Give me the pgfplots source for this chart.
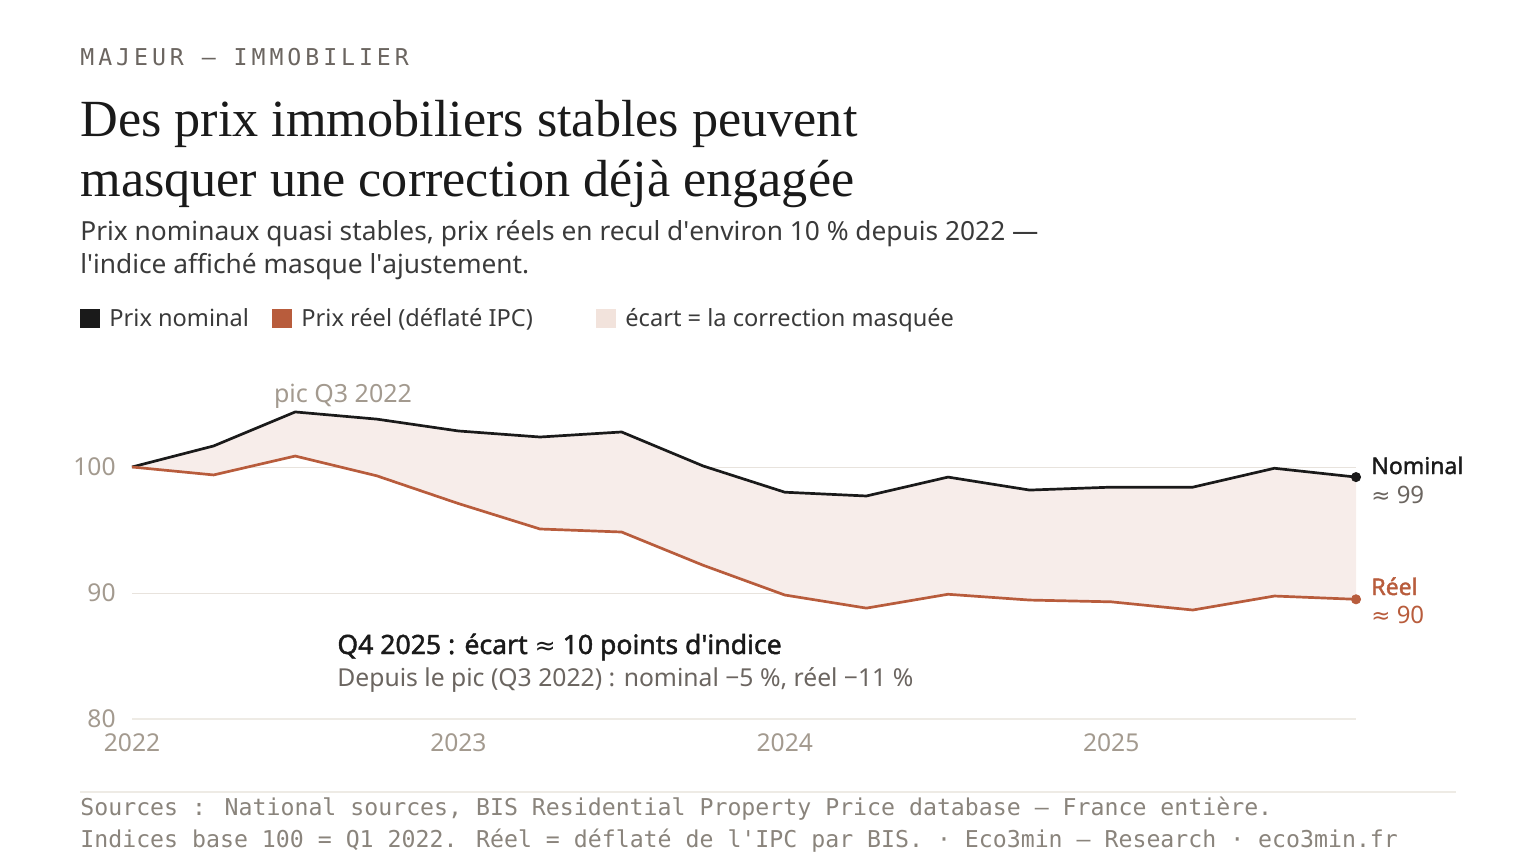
\documentclass[border=0pt]{standalone}
\usepackage{fontspec}
\setmainfont{Noto Sans}
\newfontfamily\semib{Noto Sans}[FakeBold=1.6]
\newfontfamily\symfont{DejaVu Sans}
\newfontfamily\titlefont{Liberation Serif}
\newfontfamily\monofont{DejaVu Sans Mono}
\usepackage{pgfplots}
\pgfplotsset{compat=1.18}
\usepgfplotslibrary{fillbetween}
\definecolor{ink}{HTML}{1A1A1A}
\definecolor{rust}{HTML}{B85C3C}
\definecolor{gapfill}{HTML}{F7EDEA}
\definecolor{gapkey}{HTML}{F2E3DC}
\definecolor{kicker}{HTML}{6B6560}
\definecolor{tickgray}{HTML}{A39A8F}
\definecolor{gridc}{HTML}{E8E3DD}
\definecolor{basec}{HTML}{EEEBE5}
\definecolor{subc}{HTML}{3A3A3A}
\definecolor{footc}{HTML}{8A847C}
\newcommand{\approxs}{{\symfont\fontsize{0.95em}{1em}\selectfont ≈}}
\newcommand{\q}{\textquotesingle}
\begin{document}
\begin{tikzpicture}
\path (0,0) rectangle (768pt,432pt);
% header
\node[anchor=base west,inner sep=0pt,text=kicker] at (40pt,399pt)
  {\monofont\addfontfeature{LetterSpace=17}\fontsize{11.6pt}{14pt}\selectfont MAJEUR — IMMOBILIER};
\node[anchor=base west,inner sep=0pt,text=ink] at (40pt,363.5pt)
  {\titlefont\fontsize{26.1pt}{30pt}\selectfont Des prix immobiliers stables peuvent};
\node[anchor=base west,inner sep=0pt,text=ink] at (40pt,334pt)
  {\titlefont\fontsize{26.1pt}{30pt}\selectfont masquer une correction déjà engagée};
\node[anchor=base west,inner sep=0pt,text=subc] at (40pt,312pt)
  {\fontsize{13.15pt}{14pt}\selectfont Prix nominaux quasi stables, prix réels en recul d\q environ 10 \% depuis 2022 —};
\node[anchor=base west,inner sep=0pt,text=subc] at (40pt,295pt)
  {\fontsize{13.15pt}{14pt}\selectfont l\q indice affiché masque l\q ajustement.};
% legend
\fill[ink] (40pt,268pt) rectangle (50pt,277.5pt);
\node[anchor=base west,inner sep=0pt,text=subc] at (54.5pt,269pt) {\fontsize{11.8pt}{14pt}\selectfont Prix nominal};
\fill[rust] (136pt,268pt) rectangle (146pt,277.5pt);
\node[anchor=base west,inner sep=0pt,text=subc] at (150.5pt,269pt) {\fontsize{11.8pt}{14pt}\selectfont Prix réel (déflaté IPC)};
\fill[gapkey] (298pt,268pt) rectangle (308pt,277.5pt);
\node[anchor=base west,inner sep=0pt,text=subc] at (312.5pt,269pt) {\fontsize{11.8pt}{14pt}\selectfont écart = la correction masquée};

\begin{axis}[
  at={(66pt,72.5pt)}, anchor=south west,
  scale only axis, width=612pt, height=157.5pt,
  xmin=0, xmax=15, ymin=80, ymax=105,
  axis line style={draw=none},
  major tick style={draw=none},
  xtick={0,4,8,12}, xticklabels={2022,2023,2024,2025},
  ytick={90,100},
  ymajorgrids, grid style={gridc, line width=0.5pt},
  extra y ticks={80}, extra y tick style={grid style={basec, line width=1pt}},
  tick label style={text=tickgray, font=\fontsize{12.3pt}{13pt}\selectfont},
  xticklabel style={anchor=center, inner sep=0pt, yshift=-12pt},
  yticklabel style={anchor=east, inner sep=0pt, xshift=-8pt},
  /pgf/number format/assume math mode=true,
  clip=false,
]
\addplot[name path=nom, draw=none, forget plot] coordinates {
 (0,100.0) (1,101.67) (2,104.37) (3,103.8)
 (4,102.86) (5,102.38) (6,102.78) (7,100.08)
 (8,98.0) (9,97.7) (10,99.2) (11,98.17)
 (12,98.4) (13,98.4) (14,99.9) (15,99.2)};
\addplot[name path=reel, draw=none, forget plot] coordinates {
 (0,100.0) (1,99.37) (2,100.87) (3,99.3)
 (4,97.1) (5,95.08) (6,94.84) (7,92.2)
 (8,89.84) (9,88.8) (10,89.9) (11,89.44)
 (12,89.3) (13,88.65) (14,89.76) (15,89.5)};
\addplot[gapfill, forget plot] fill between[of=nom and reel];
\addplot[ink, line width=1.35pt] coordinates {
 (0,100.0) (1,101.67) (2,104.37) (3,103.8)
 (4,102.86) (5,102.38) (6,102.78) (7,100.08)
 (8,98.0) (9,97.7) (10,99.2) (11,98.17)
 (12,98.4) (13,98.4) (14,99.9) (15,99.2)};
\addplot[rust, line width=1.35pt] coordinates {
 (0,100.0) (1,99.37) (2,100.87) (3,99.3)
 (4,97.1) (5,95.08) (6,94.84) (7,92.2)
 (8,89.84) (9,88.8) (10,89.9) (11,89.44)
 (12,89.3) (13,88.65) (14,89.76) (15,89.5)};
\addplot[ink, only marks, mark=*, mark size=2.3pt] coordinates {(15,99.2)};
\addplot[rust, only marks, mark=*, mark size=2.3pt] coordinates {(15,89.5)};
\end{axis}

% annotations
\node[anchor=base,inner sep=0pt,text=tickgray] at (171.5pt,231pt) {\fontsize{12.5pt}{14pt}\selectfont pic Q3 2022};
\node[anchor=base west,inner sep=0pt,text=ink] at (685.5pt,195pt) {\semib\fontsize{11.5pt}{14pt}\selectfont Nominal};
\node[anchor=base west,inner sep=0pt,text=kicker] at (685.5pt,180.5pt) {\fontsize{12pt}{14pt}\selectfont \approxs\ 99};
\node[anchor=base west,inner sep=0pt,text=rust] at (685.5pt,134.5pt) {\semib\fontsize{11.5pt}{14pt}\selectfont Réel};
\node[anchor=base west,inner sep=0pt,text=rust] at (685.5pt,120.5pt) {\fontsize{12pt}{14pt}\selectfont \approxs\ 90};
\node[anchor=base west,inner sep=0pt,text=ink] at (168.5pt,105pt) {\semib\fontsize{13.3pt}{15pt}\selectfont Q4 2025 : écart \approxs\ 10 points d'indice};
\node[anchor=base west,inner sep=0pt,text=kicker] at (168.5pt,89pt) {\fontsize{12.35pt}{14pt}\selectfont Depuis le pic (Q3 2022) : nominal −5 \%, réel −11 \%};
% footer
\draw[basec, line width=0.7pt] (40pt,36pt) -- (728pt,36pt);
\node[anchor=base west,inner sep=0pt,text=footc] at (40pt,24.5pt)
  {\monofont\fontsize{11.6pt}{14pt}\selectfont Sources : National sources, BIS Residential Property Price database — France entière.};
\node[anchor=base west,inner sep=0pt,text=footc] at (40pt,8.5pt)
  {\monofont\fontsize{11.6pt}{14pt}\selectfont Indices base 100 = Q1 2022. Réel = déflaté de l'IPC par BIS. · Eco3min — Research · eco3min.fr};
\end{tikzpicture}
\end{document}
